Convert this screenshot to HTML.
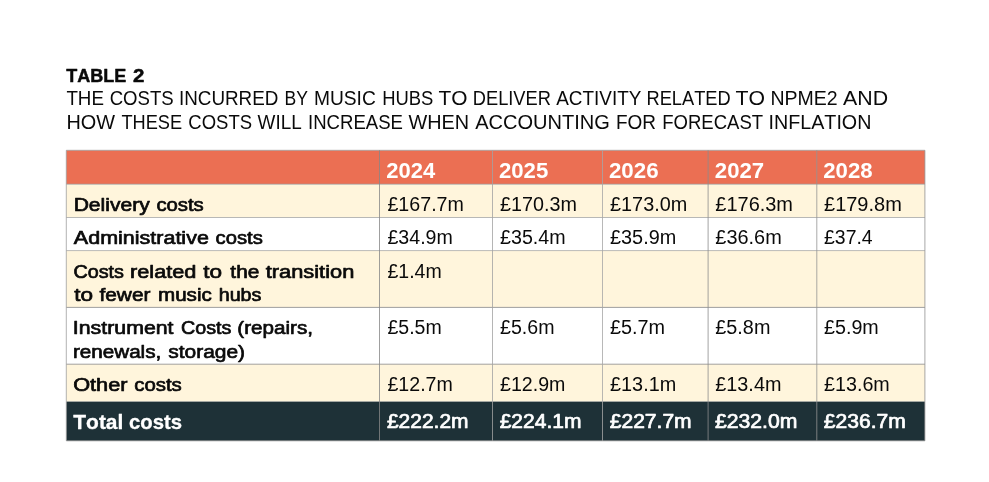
<!DOCTYPE html>
<html><head><meta charset="utf-8">
<style>
html,body{margin:0;padding:0;background:#fff;}
body{width:989px;height:482px;overflow:hidden;}
svg{display:block;font-family:"Liberation Sans",sans-serif;}
text{white-space:pre;font-kerning:none;}
.b{font-weight:bold;}
.k{fill:#0a0a0a;}
.w{fill:#fff;}
</style></head><body>
<svg width="989" height="482" viewBox="0 0 989 482">
<rect x="66.3" y="150.3" width="858.6" height="33.9" fill="#eb6f53"/>
<rect x="66.3" y="184.2" width="858.6" height="33.3" fill="#fff5dc"/>
<rect x="66.3" y="217.5" width="858.6" height="33.1" fill="#ffffff"/>
<rect x="66.3" y="250.6" width="858.6" height="56.8" fill="#fff5dc"/>
<rect x="66.3" y="307.4" width="858.6" height="56.8" fill="#ffffff"/>
<rect x="66.3" y="364.2" width="858.6" height="37.4" fill="#fff5dc"/>
<rect x="66.3" y="401.6" width="858.6" height="39.2" fill="#1e3137"/>
<g stroke-width="0.8" fill="none">
<line x1="66.3" y1="150.3" x2="924.9" y2="150.3" stroke="#a0a0a0"/>
<line x1="66.3" y1="184.2" x2="924.9" y2="184.2" stroke="#a0a0a0"/>
<line x1="66.3" y1="217.5" x2="924.9" y2="217.5" stroke="#a6a6a6"/>
<line x1="66.3" y1="250.6" x2="924.9" y2="250.6" stroke="#a8a8a8"/>
<line x1="66.3" y1="307.4" x2="924.9" y2="307.4" stroke="#868686"/>
<line x1="66.3" y1="364.2" x2="924.9" y2="364.2" stroke="#8a8a8a"/>
<line x1="66.3" y1="440.8" x2="924.9" y2="440.8" stroke="#909090"/>
<line x1="66.3" y1="150.3" x2="66.3" y2="440.8" stroke="#a0a0a0"/>
<line x1="379.5" y1="150.3" x2="379.5" y2="440.8" stroke="#868686"/>
<line x1="492.5" y1="150.3" x2="492.5" y2="440.8" stroke="#a2a2a2"/>
<line x1="602.5" y1="150.3" x2="602.5" y2="440.8" stroke="#a6a6a6"/>
<line x1="708.1" y1="150.3" x2="708.1" y2="440.8" stroke="#8c8c8c"/>
<line x1="816.8" y1="150.3" x2="816.8" y2="440.8" stroke="#939393"/>
<line x1="924.9" y1="150.3" x2="924.9" y2="440.8" stroke="#909090"/>
</g>
<text class="k b" y="81.6" font-size="18.9" stroke="#0a0a0a" stroke-width="0.5" stroke-linejoin="round"><tspan x="66.34" textLength="59.93" lengthAdjust="spacingAndGlyphs">TABLE</tspan> <tspan x="132.96" textLength="11.39" lengthAdjust="spacingAndGlyphs">2</tspan></text>
<text class="k" y="105" font-size="19.7"><tspan x="66.38" textLength="37.53" lengthAdjust="spacingAndGlyphs">THE</tspan> <tspan x="109.66" textLength="64.00" lengthAdjust="spacingAndGlyphs">COSTS</tspan> <tspan x="178.96" textLength="99.44" lengthAdjust="spacingAndGlyphs">INCURRED</tspan> <tspan x="284.56" textLength="23.43" lengthAdjust="spacingAndGlyphs">BY</tspan> <tspan x="313.92" textLength="61.91" lengthAdjust="spacingAndGlyphs">MUSIC</tspan> <tspan x="382.19" textLength="51.16" lengthAdjust="spacingAndGlyphs">HUBS</tspan> <tspan x="438.43" textLength="28.97" lengthAdjust="spacingAndGlyphs">TO</tspan> <tspan x="472.80" textLength="78.04" lengthAdjust="spacingAndGlyphs">DELIVER</tspan> <tspan x="556.26" textLength="85.05" lengthAdjust="spacingAndGlyphs">ACTIVITY</tspan> <tspan x="646.50" textLength="84.17" lengthAdjust="spacingAndGlyphs">RELATED</tspan> <tspan x="735.52" textLength="29.49" lengthAdjust="spacingAndGlyphs">TO</tspan> <tspan x="770.40" textLength="67.28" lengthAdjust="spacingAndGlyphs">NPME2</tspan> <tspan x="843.06" textLength="45.06" lengthAdjust="spacingAndGlyphs">AND</tspan></text>
<text class="k" y="129" font-size="19.7"><tspan x="66.47" textLength="48.60" lengthAdjust="spacingAndGlyphs">HOW</tspan> <tspan x="121.39" textLength="60.69" lengthAdjust="spacingAndGlyphs">THESE</tspan> <tspan x="188.36" textLength="63.69" lengthAdjust="spacingAndGlyphs">COSTS</tspan> <tspan x="257.62" textLength="44.11" lengthAdjust="spacingAndGlyphs">WILL</tspan> <tspan x="308.09" textLength="94.81" lengthAdjust="spacingAndGlyphs">INCREASE</tspan> <tspan x="408.41" textLength="60.60" lengthAdjust="spacingAndGlyphs">WHEN</tspan> <tspan x="475.26" textLength="134.64" lengthAdjust="spacingAndGlyphs">ACCOUNTING</tspan> <tspan x="616.04" textLength="40.04" lengthAdjust="spacingAndGlyphs">FOR</tspan> <tspan x="662.28" textLength="100.84" lengthAdjust="spacingAndGlyphs">FORECAST</tspan> <tspan x="768.58">INFLATION</tspan></text>
<text class="w b" y="178.0" font-size="21.5"><tspan x="386.24" textLength="48.98" lengthAdjust="spacingAndGlyphs">2024</tspan></text>
<text class="w b" y="178.0" font-size="21.5"><tspan x="498.93" textLength="49.39" lengthAdjust="spacingAndGlyphs">2025</tspan></text>
<text class="w b" y="178.0" font-size="21.5"><tspan x="608.93" textLength="49.68" lengthAdjust="spacingAndGlyphs">2026</tspan></text>
<text class="w b" y="178.0" font-size="21.5"><tspan x="714.83" textLength="49.34" lengthAdjust="spacingAndGlyphs">2027</tspan></text>
<text class="w b" y="178.0" font-size="21.5"><tspan x="823.23" textLength="49.35" lengthAdjust="spacingAndGlyphs">2028</tspan></text>
<text class="k" y="211.1" font-size="19.6"><tspan x="387.44" textLength="76.45" lengthAdjust="spacingAndGlyphs">£167.7m</tspan></text>
<text class="k" y="211.1" font-size="19.6"><tspan x="500.04" textLength="76.86" lengthAdjust="spacingAndGlyphs">£170.3m</tspan></text>
<text class="k" y="211.1" font-size="19.6"><tspan x="610.04" textLength="77.27" lengthAdjust="spacingAndGlyphs">£173.0m</tspan></text>
<text class="k" y="211.1" font-size="19.6"><tspan x="715.33" textLength="77.68" lengthAdjust="spacingAndGlyphs">£176.3m</tspan></text>
<text class="k" y="211.1" font-size="19.6"><tspan x="824.03" textLength="77.78" lengthAdjust="spacingAndGlyphs">£179.8m</tspan></text>
<text class="k" y="244.1" font-size="19.6"><tspan x="387.45">£34.9m</tspan></text>
<text class="k" y="244.1" font-size="19.6"><tspan x="500.04" textLength="65.55" lengthAdjust="spacingAndGlyphs">£35.4m</tspan></text>
<text class="k" y="244.1" font-size="19.6"><tspan x="610.04" textLength="66.17" lengthAdjust="spacingAndGlyphs">£35.9m</tspan></text>
<text class="k" y="244.1" font-size="19.6"><tspan x="715.34" textLength="66.38" lengthAdjust="spacingAndGlyphs">£36.6m</tspan></text>
<text class="k" y="244.1" font-size="19.6"><tspan x="824.05" textLength="48.62" lengthAdjust="spacingAndGlyphs">£37.4</tspan></text>
<text class="k" y="277.6" font-size="19.6"><tspan x="387.45" textLength="54.24" lengthAdjust="spacingAndGlyphs">£1.4m</tspan></text>
<text class="k" y="334.0" font-size="19.6"><tspan x="387.45" textLength="54.24" lengthAdjust="spacingAndGlyphs">£5.5m</tspan></text>
<text class="k" y="334.0" font-size="19.6"><tspan x="500.04">£5.6m</tspan></text>
<text class="k" y="334.0" font-size="19.6"><tspan x="610.04" textLength="55.07" lengthAdjust="spacingAndGlyphs">£5.7m</tspan></text>
<text class="k" y="334.0" font-size="19.6"><tspan x="715.34" textLength="55.07" lengthAdjust="spacingAndGlyphs">£5.8m</tspan></text>
<text class="k" y="334.0" font-size="19.6"><tspan x="824.04" textLength="54.76" lengthAdjust="spacingAndGlyphs">£5.9m</tspan></text>
<text class="k" y="391.2" font-size="19.6"><tspan x="387.45">£12.7m</tspan></text>
<text class="k" y="391.2" font-size="19.6"><tspan x="500.05">£12.9m</tspan></text>
<text class="k" y="391.2" font-size="19.6"><tspan x="610.04" textLength="66.17" lengthAdjust="spacingAndGlyphs">£13.1m</tspan></text>
<text class="k" y="391.2" font-size="19.6"><tspan x="715.34" textLength="66.07" lengthAdjust="spacingAndGlyphs">£13.4m</tspan></text>
<text class="k" y="391.2" font-size="19.6"><tspan x="824.04" textLength="65.76" lengthAdjust="spacingAndGlyphs">£13.6m</tspan></text>
<text class="w" y="427.9" font-size="19.7" stroke="#fff" stroke-width="0.7" stroke-linejoin="round"><tspan x="386.98" textLength="81.53" lengthAdjust="spacingAndGlyphs">£222.2m</tspan></text>
<text class="w" y="427.9" font-size="19.7" stroke="#fff" stroke-width="0.7" stroke-linejoin="round"><tspan x="499.68" textLength="81.73" lengthAdjust="spacingAndGlyphs">£224.1m</tspan></text>
<text class="w" y="427.9" font-size="19.7" stroke="#fff" stroke-width="0.7" stroke-linejoin="round"><tspan x="609.78" textLength="81.83" lengthAdjust="spacingAndGlyphs">£227.7m</tspan></text>
<text class="w" y="427.9" font-size="19.7" stroke="#fff" stroke-width="0.7" stroke-linejoin="round"><tspan x="714.98" textLength="82.44" lengthAdjust="spacingAndGlyphs">£232.0m</tspan></text>
<text class="w" y="427.9" font-size="19.7" stroke="#fff" stroke-width="0.7" stroke-linejoin="round"><tspan x="823.88" textLength="81.94" lengthAdjust="spacingAndGlyphs">£236.7m</tspan></text>
<text class="k" y="211.1" font-size="18.8" stroke="#0a0a0a" stroke-width="0.7" stroke-linejoin="round"><tspan x="73.66" textLength="76.08" lengthAdjust="spacingAndGlyphs">Delivery</tspan> <tspan x="156.42" textLength="47.34" lengthAdjust="spacingAndGlyphs">costs</tspan></text>
<text class="k" y="244.1" font-size="18.8" stroke="#0a0a0a" stroke-width="0.7" stroke-linejoin="round"><tspan x="73.86" textLength="135.00" lengthAdjust="spacingAndGlyphs">Administrative</tspan> <tspan x="215.62" textLength="47.14" lengthAdjust="spacingAndGlyphs">costs</tspan></text>
<text class="k" y="277.6" font-size="18.8" stroke="#0a0a0a" stroke-width="0.7" stroke-linejoin="round"><tspan x="73.46" textLength="50.48" lengthAdjust="spacingAndGlyphs">Costs</tspan> <tspan x="130.06" textLength="66.33" lengthAdjust="spacingAndGlyphs">related</tspan> <tspan x="203.28" textLength="18.81" lengthAdjust="spacingAndGlyphs">to</tspan> <tspan x="230.37" textLength="28.97" lengthAdjust="spacingAndGlyphs">the</tspan> <tspan x="265.78" textLength="88.53" lengthAdjust="spacingAndGlyphs">transition</tspan></text>
<text class="k" y="301.1" font-size="18.8" stroke="#0a0a0a" stroke-width="0.7" stroke-linejoin="round"><tspan x="74.18" textLength="18.81" lengthAdjust="spacingAndGlyphs">to</tspan> <tspan x="99.49" textLength="50.97" lengthAdjust="spacingAndGlyphs">fewer</tspan> <tspan x="158.02" textLength="53.74" lengthAdjust="spacingAndGlyphs">music</tspan> <tspan x="218.70" textLength="42.75" lengthAdjust="spacingAndGlyphs">hubs</tspan></text>
<text class="k" y="334.0" font-size="18.8" stroke="#0a0a0a" stroke-width="0.7" stroke-linejoin="round"><tspan x="72.83" textLength="100.73" lengthAdjust="spacingAndGlyphs">Instrument</tspan> <tspan x="181.07" textLength="50.38" lengthAdjust="spacingAndGlyphs">Costs</tspan> <tspan x="237.30" textLength="75.66" lengthAdjust="spacingAndGlyphs">(repairs,</tspan></text>
<text class="k" y="357.6" font-size="18.8" stroke="#0a0a0a" stroke-width="0.7" stroke-linejoin="round"><tspan x="72.91" textLength="88.36" lengthAdjust="spacingAndGlyphs">renewals,</tspan> <tspan x="168.31" textLength="76.80" lengthAdjust="spacingAndGlyphs">storage)</tspan></text>
<text class="k" y="391.2" font-size="18.8" stroke="#0a0a0a" stroke-width="0.7" stroke-linejoin="round"><tspan x="73.17" textLength="54.38" lengthAdjust="spacingAndGlyphs">Other</tspan> <tspan x="134.21" textLength="47.54" lengthAdjust="spacingAndGlyphs">costs</tspan></text>
<text class="w b" y="429.4" font-size="20.6" stroke="#fff" stroke-width="0.3" stroke-linejoin="round"><tspan x="73.32" textLength="50.01" lengthAdjust="spacingAndGlyphs">Total</tspan> <tspan x="129.05" textLength="53.03" lengthAdjust="spacingAndGlyphs">costs</tspan></text>
</svg>
</body></html>
